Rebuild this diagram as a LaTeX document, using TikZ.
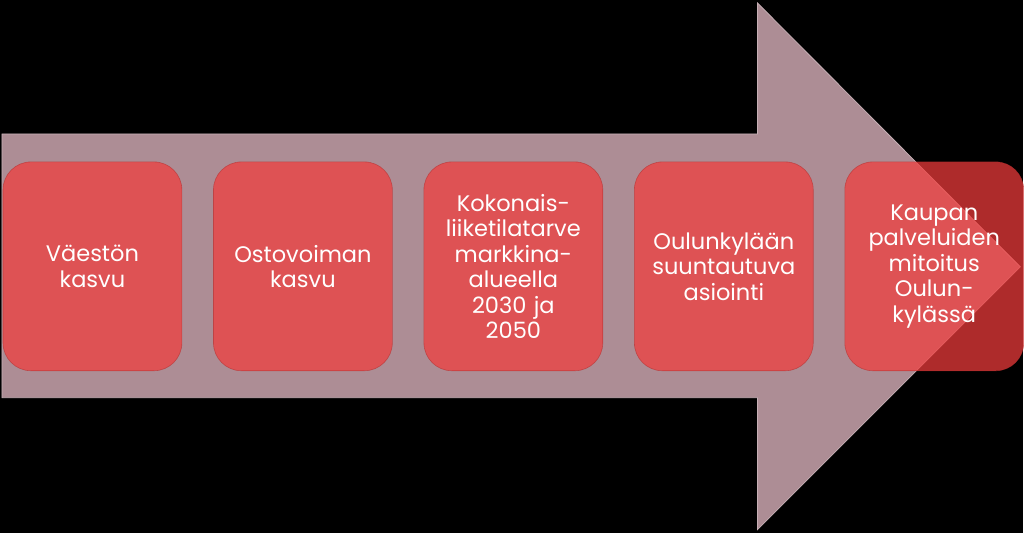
\documentclass[tikz,border=0pt]{standalone}
\usepackage{fontspec}
\setmainfont{Poppins}
\usepackage{tikz}
\usetikzlibrary{positioning}
\definecolor{arrowmauve}{HTML}{AD8D95}
\definecolor{boxred}{HTML}{F23C3C}

\begin{document}
\begin{tikzpicture}[x=1pt,y=-1pt,
  phase/.style={draw=boxred!75!black,line width=0.6pt,draw opacity=0.6,fill=boxred,fill opacity=0.72,text opacity=1,text=white,
    rounded corners=28pt,minimum width=179pt,minimum height=209pt,text width=170pt,inner sep=0pt,align=center,
    font=\fontsize{22.5}{25.5}\selectfont},
  node distance=31pt]
\fill[black] (0,0) rectangle (1024,533);
% big arrow behind the steps
\draw[fill=arrowmauve,draw=arrowmauve!70!white,line width=0.8pt] (2,134) -- (758,134) -- (758,3) -- (1021,267) -- (758,530) -- (758,398) -- (2,398) -- cycle;
\node[phase] (vaesto) at (92.5,266.5) {Väestön\\kasvu};
\node[phase,right=of vaesto] (osto) {Ostovoiman\\kasvu};
\node[phase,right=of osto] (tarve) {Kokonais-\\liiketilatarve\\markkina-\\alueella\\2030 ja\\2050};
\node[phase,right=of tarve] (asiointi) {Oulunkylään\\suuntautuva\\asiointi};
\node[phase,right=of asiointi] (mitoitus) {Kaupan\\palveluiden\\mitoitus\\Oulun-\\kylässä};
\end{tikzpicture}
\end{document}
